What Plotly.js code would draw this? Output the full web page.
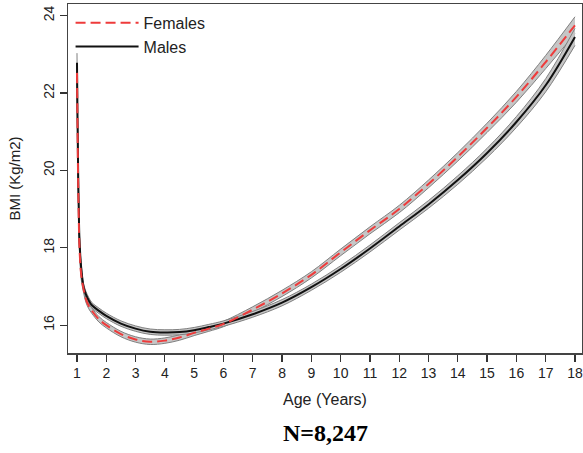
<!DOCTYPE html>
<html>
<head>
<meta charset="utf-8">
<script src="https://cdn.plot.ly/plotly-3.0.1.min.js"></script>
<style>html,body{margin:0;padding:0;background:#fff;}#chart{width:583px;height:453px;}</style>
</head>
<body>
<div id="chart"></div>
<script>
// Age (years)
const ages = [1, 1.02, 1.04, 1.06, 1.08, 1.12, 1.16, 1.22, 1.3, 1.4, 1.5, 1.75, 2, 2.5, 3, 3.5, 4, 4.5, 5, 5.5, 6, 7, 8, 9, 10, 11, 12, 13, 14, 15, 16, 17, 18];
// Females BMI curve
const femaleBMI = [22.52, 21.0, 19.7, 18.8, 18.1, 17.5, 17.2, 16.95, 16.68, 16.5, 16.38, 16.15, 16.0, 15.77, 15.63, 15.57, 15.6, 15.68, 15.8, 15.91, 16.03, 16.4, 16.82, 17.3, 17.88, 18.45, 19.0, 19.65, 20.35, 21.1, 21.9, 22.8, 23.75];
// Males BMI curve
const maleBMI = [22.78, 21.2, 19.9, 19.0, 18.3, 17.7, 17.35, 17.0, 16.8, 16.64, 16.52, 16.37, 16.24, 16.04, 15.91, 15.83, 15.81, 15.82, 15.87, 15.95, 16.04, 16.28, 16.58, 16.98, 17.45, 17.98, 18.55, 19.12, 19.75, 20.45, 21.25, 22.2, 23.45];
// Confidence band half-widths
const femaleCI = [0.25, 0.2, 0.17, 0.15, 0.13, 0.11, 0.1, 0.09, 0.08, 0.075, 0.07, 0.07, 0.07, 0.07, 0.07, 0.07, 0.07, 0.07, 0.07, 0.07, 0.07, 0.075, 0.08, 0.08, 0.085, 0.09, 0.095, 0.1, 0.11, 0.12, 0.14, 0.17, 0.22];
const maleCI = [0.25, 0.2, 0.17, 0.15, 0.13, 0.11, 0.1, 0.09, 0.08, 0.075, 0.07, 0.07, 0.07, 0.07, 0.07, 0.07, 0.07, 0.07, 0.07, 0.07, 0.07, 0.075, 0.08, 0.08, 0.085, 0.09, 0.095, 0.1, 0.11, 0.12, 0.14, 0.17, 0.22];
// Axis ticks
const xTicks = [1, 2, 3, 4, 5, 6, 7, 8, 9, 10, 11, 12, 13, 14, 15, 16, 17, 18];
const yTicks = [16, 18, 20, 22, 24];

function band(vals, ci, sign) { return vals.map((v, i) => v + sign * ci[i]); }

const bandFill = '#c6c6c6';
const bandEdge = '#808080';

function bandTraces(vals, ci) {
  return [
    {x: ages, y: band(vals, ci, -1), type: 'scatter', mode: 'lines', line: {color: bandEdge, width: 1, shape: 'spline'}, showlegend: false, hoverinfo: 'skip'},
    {x: ages, y: band(vals, ci, 1), type: 'scatter', mode: 'lines', fill: 'tonexty', fillcolor: bandFill, line: {color: bandEdge, width: 1, shape: 'spline'}, showlegend: false, hoverinfo: 'skip'}
  ];
}

const data = [
  ...bandTraces(femaleBMI, femaleCI),
  ...bandTraces(maleBMI, maleCI),
  {x: ages, y: maleBMI, type: 'scatter', mode: 'lines', name: 'Males', line: {color: '#111111', width: 2, shape: 'spline'}},
  {x: ages, y: femaleBMI, type: 'scatter', mode: 'lines', name: 'Females', line: {color: '#ee3b3b', width: 2, dash: '10px,5px', shape: 'spline'}}
];

const fontFam = '"Liberation Sans", Arial, sans-serif';

const layout = {
  width: 583, height: 453,
  margin: {l: 68, r: 1, t: 4, b: 100},
  paper_bgcolor: '#ffffff', plot_bgcolor: '#ffffff',
  showlegend: true,
  legend: {x: 0.005, y: 0.995, xanchor: 'left', yanchor: 'top', traceorder: 'reversed', bgcolor: 'rgba(0,0,0,0)', font: {family: fontFam, size: 16, color: '#222'}, itemwidth: 63},
  xaxis: {
    range: [0.693, 18.24], tickvals: xTicks, ticktext: xTicks.map(String),
    showgrid: false, zeroline: false, showline: true, mirror: true, linecolor: '#444', linewidth: 1.5,
    ticks: 'outside', ticklen: 7, tickwidth: 1.2, tickcolor: '#333',
    tickfont: {family: fontFam, size: 14, color: '#222'},
    title: {text: 'Age (Years)', font: {family: fontFam, size: 16, color: '#222'}, standoff: 13}
  },
  yaxis: {
    range: [15.28, 24.30], tickvals: yTicks, ticktext: yTicks.map(String),
    showgrid: false, zeroline: false, showline: true, mirror: true, linecolor: '#444', linewidth: 1.5,
    ticks: 'outside', ticklen: 7, tickwidth: 1.2, tickcolor: '#333', tickangle: -90,
    tickfont: {family: fontFam, size: 14, color: '#222'},
    title: {text: 'BMI (Kg/m2)', font: {family: fontFam, size: 15, color: '#222'}, standoff: 16}
  },
  annotations: [
    {text: '<b>N=8,247</b>', xref: 'paper', yref: 'paper', x: 0.5, y: -0.23, xanchor: 'center', yanchor: 'middle', showarrow: false, font: {family: '"Liberation Serif", "Times New Roman", serif', size: 24, color: '#000'}}
  ]
};

Plotly.newPlot('chart', data, layout, {displayModeBar: false, staticPlot: true});
</script>
</body>
</html>
